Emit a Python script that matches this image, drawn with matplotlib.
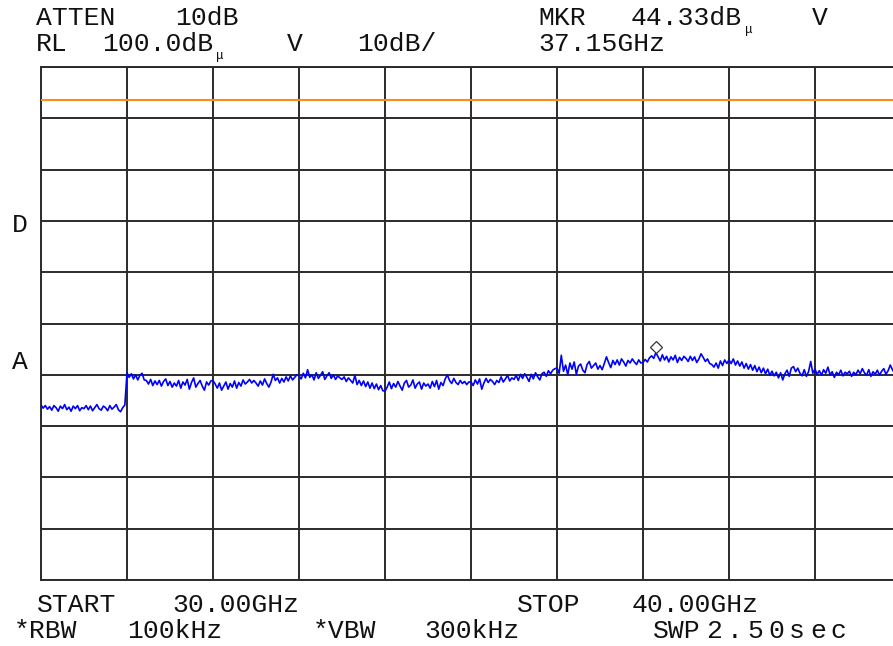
import numpy as np
import matplotlib
matplotlib.use('Agg')
import matplotlib.pyplot as plt
from matplotlib.transforms import offset_copy

# sweep settings
start_ghz = 30.0
stop_ghz = 40.0
ref_level = 100.0
db_per_div = 10
display_line = 93.5
marker_ghz = 37.15
marker_db = 44.33

# trace readout in dB (401 sweep points)
trace_db = [
    34.1, 33.5, 34.0, 33.3, 33.8, 33.1, 34.0, 33.6, 32.9, 33.9, 33.4, 34.2, 33.2, 33.7, 32.9, 33.9, 33.4, 34.0, 33.0, 33.6,
    33.4, 34.0, 33.2, 33.9, 33.0, 33.6, 34.2, 33.4, 33.1, 33.9, 33.6, 33.0, 34.0, 33.3, 33.7, 34.2, 33.2, 32.8, 33.6, 34.1,
    40.4, 39.5, 40.2, 39.2, 40.0, 39.0, 39.9, 40.3, 39.0, 38.9, 38.2, 39.1, 37.9, 38.8, 38.1, 38.9, 37.8, 38.7, 39.2, 37.9,
    38.7, 37.6, 38.4, 37.8, 38.9, 37.4, 38.6, 38.0, 39.1, 37.2, 38.5, 39.4, 37.6, 38.3, 38.9, 37.8, 37.0, 38.6, 38.0, 38.8,
    38.9, 38.2, 37.4, 38.4, 37.0, 37.8, 38.6, 37.2, 38.3, 37.6, 38.8, 37.4, 38.5, 37.8, 39.0, 38.2, 38.6, 39.1, 38.4, 38.9,
    38.4, 37.8, 38.8, 38.0, 39.2, 38.3, 37.6, 38.6, 40.1, 38.9, 39.4, 38.4, 39.3, 38.6, 39.6, 38.8, 39.8, 39.0, 39.5, 40.0,
    39.8, 39.2, 40.3, 39.4, 41.0, 39.5, 40.0, 39.0, 40.4, 39.3, 39.9, 40.6, 39.1, 39.8, 40.4, 39.3, 40.0, 39.1, 39.8, 39.4,
    39.1, 39.6, 38.7, 39.4, 38.9, 38.4, 39.9, 38.1, 38.9, 37.9, 38.8, 37.7, 38.6, 37.4, 38.4, 37.3, 38.2, 37.1, 37.9, 36.9,
    36.8, 37.6, 38.6, 37.3, 38.3, 37.6, 38.7, 37.8, 37.0, 38.4, 38.9, 37.6, 38.0, 39.0, 37.4, 38.2, 38.6, 37.2, 38.4, 37.8,
    38.2, 37.4, 38.7, 37.7, 38.9, 37.2, 38.5, 37.9, 39.2, 40.0, 38.9, 38.3, 39.3, 38.5, 38.1, 38.9, 38.3, 38.7, 38.1, 38.6,
    38.6, 37.9, 39.0, 38.2, 39.2, 37.2, 38.4, 39.3, 38.5, 39.1, 38.7, 38.1, 38.9, 38.5, 39.6, 38.6, 39.2, 39.9, 38.8, 39.4,
    39.1, 39.9, 38.9, 40.1, 39.3, 40.2, 39.5, 38.7, 40.1, 39.2, 40.4, 39.6, 39.0, 40.2, 40.5, 39.7, 40.8, 40.2, 40.9, 41.2,
    41.3, 40.3, 43.8, 40.7, 41.9, 40.0, 42.3, 41.1, 42.5, 40.1, 41.7, 42.1, 40.9, 40.4, 42.0, 42.6, 41.3, 41.8, 42.3, 41.1,
    41.8, 41.0, 42.2, 43.5, 42.4, 41.4, 42.8, 42.0, 42.9, 41.9, 43.1, 42.5, 41.7, 42.8, 42.3, 43.1, 42.5, 42.0, 42.9, 42.3,
    42.4, 43.0, 42.5, 43.3, 43.7, 43.2, 44.33, 43.5, 42.7, 43.9, 42.9, 43.6, 42.5, 43.5, 42.9, 43.8, 42.4, 43.4, 42.8, 43.6,
    43.2, 42.6, 43.6, 42.8, 43.5, 42.4, 43.1, 44.1, 43.4, 42.6, 43.1, 42.2, 42.0, 41.5, 42.3, 41.3, 42.7, 41.8, 42.9, 42.2,
    42.9, 42.2, 43.1, 41.9, 42.7, 41.7, 42.5, 41.3, 42.2, 41.1, 42.0, 40.9, 41.8, 40.6, 41.5, 40.4, 41.3, 40.2, 41.1, 39.9,
    40.7, 39.8, 40.5, 39.4, 40.4, 39.0, 40.2, 40.9, 39.7, 41.3, 41.6, 40.6, 41.3, 40.3, 39.8, 41.0, 39.7, 40.6, 42.6, 40.3,
    41.1, 40.1, 40.8, 39.9, 41.0, 40.3, 41.5, 40.0, 40.6, 39.5, 40.5, 40.0, 40.9, 39.8, 40.5, 40.2, 40.7, 39.7, 40.5, 40.0,
    40.9, 40.2, 41.2, 40.4, 39.9, 41.0, 39.7, 40.6, 40.1, 40.9, 39.9, 40.7, 41.2, 40.1, 40.8, 41.9, 41.0, 40.3, 40.8, 40.2, 40.6,
]
assert len(trace_db) == 401

freqs = np.linspace(start_ghz, stop_ghz, len(trace_db))

W, H = 893, 646
fig = plt.figure(figsize=(W / 100, H / 100), dpi=100)
ax = fig.add_axes([41 / W, 1 - 580 / H, 860 / W, 513 / H])
ax.set_xlim(start_ghz, stop_ghz)
ax.set_ylim(ref_level - 10 * db_per_div, ref_level)

grid_col = '#2b2b2b'
ax.set_xticks(np.arange(start_ghz, stop_ghz + 0.5, 1.0))
ax.set_yticks(np.arange(ref_level - 10 * db_per_div, ref_level + 1, db_per_div))
ax.grid(color=grid_col, lw=1.4)
ax.tick_params(length=0, labelbottom=False, labelleft=False)
for s in ax.spines.values():
    s.set_color(grid_col)
    s.set_linewidth(1.4)

ax.axhline(display_line, color='#ff8c1a', lw=1.5, zorder=3)
ax.plot(freqs, trace_db, color='#0000ff', lw=1.2, zorder=4)

# marker diamond sits just above the trace point
mk_trans = offset_copy(ax.transData, fig=fig, y=6, units='dots')
ax.plot([marker_ghz], [marker_db], marker='D', ms=6.5, mfc='white',
        mec='#333333', mew=0.9, transform=mk_trans, zorder=5, clip_on=False)

FONT = 'Liberation Mono'
renderer = fig.canvas.get_renderer()


def label(x, y, s, size=19, ha='left'):
    return fig.text(x / W, 1 - y / H, s, fontsize=size, family=FONT,
                    va='center', ha=ha, color='#111111')


def unit_mu(t, dy=6):
    # small mu hanging just after "dB"
    bb = t.get_window_extent(renderer)
    fig.text((bb.x1 + 3) / W, (bb.y0 - dy) / H, 'μ', fontsize=9,
             family=FONT, va='bottom', ha='left', color='#111111')


# header
label(36, 18, 'ATTEN')
label(175, 18, '10dB')
label(36, 44, 'RL')
unit_mu(label(102, 44, '100.0dB'))
label(287, 44, 'V')
label(357, 44, '10dB/')
label(538, 18, 'MKR')
unit_mu(label(631, 18, '44.33dB'))
label(812, 18, 'V')
label(538, 44, '37.15GHz')

# side labels
label(12, 225, 'D')
label(12, 362, 'A')

# footer
label(37, 605, 'START')
label(172, 605, '30.00GHz')
label(517, 605, 'STOP')
label(632, 605, '40.00GHz')
label(14, 631, '*RBW')
label(127, 631, '100kHz')
label(313, 631, '*VBW')
label(424, 631, '300kHz')
label(653, 631, 'SWP')
for i, ch in enumerate('2.50sec'):
    label(714 + i * 20.8, 631, ch, ha='center')

fig.savefig('out.png', dpi=100)
